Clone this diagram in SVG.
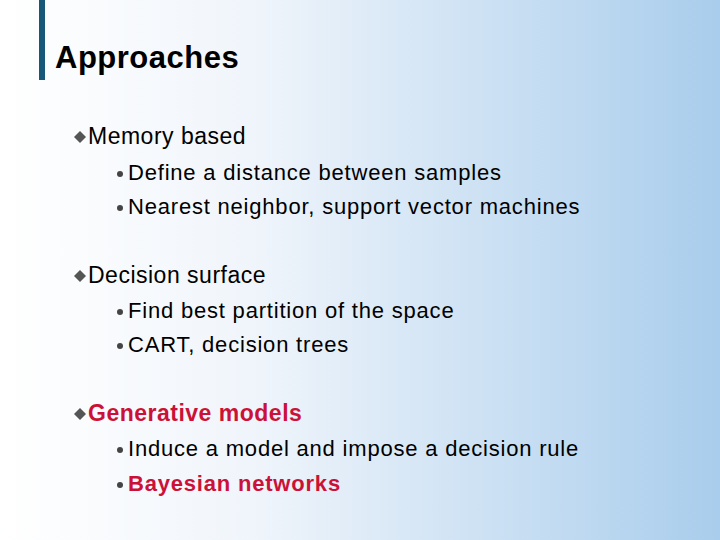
<svg xmlns="http://www.w3.org/2000/svg" width="720" height="540" viewBox="0 0 720 540">
<defs>
<linearGradient id="bg" x1="0" y1="0" x2="1" y2="0">
<stop offset="0" stop-color="#ffffff"/><stop offset="0.35" stop-color="#f0f5fb"/><stop offset="1" stop-color="#a9cdec"/>
</linearGradient>
<path id="dia" d="M0,-6 L6,0 L0,6 L-6,0Z" fill="#555"/>
</defs>
<style>
text{font-family:"Liberation Sans",Arial,sans-serif;fill:#000}
.t{font-size:31px;font-weight:bold;letter-spacing:0.5px}
.l1{font-size:23px;letter-spacing:0.5px}
.l2{font-size:22px;letter-spacing:0.8px}
.r{fill:#cc1138;font-weight:bold}
.dot{fill:#444}
</style>
<rect width="720" height="540" fill="url(#bg)"/>
<rect x="39" y="0" width="6" height="80" fill="#17587a"/>
<text class="t" x="55" y="68">Approaches</text>
<g id="memory">
<use href="#dia" x="80" y="137"/><text class="l1" x="88" y="144">Memory based</text>
<circle class="dot" cx="120" cy="174" r="3"/><text class="l2" x="128" y="180">Define a distance between samples</text>
<circle class="dot" cx="120" cy="208" r="3"/><text class="l2" x="128" y="214">Nearest neighbor, support vector machines</text>
</g>
<g id="decision">
<use href="#dia" x="80" y="276"/><text class="l1" x="88" y="283">Decision surface</text>
<circle class="dot" cx="120" cy="312" r="3"/><text class="l2" x="128" y="318">Find best partition of the space</text>
<circle class="dot" cx="120" cy="346" r="3"/><text class="l2" x="128" y="352">CART, decision trees</text>
</g>
<g id="generative">
<use href="#dia" x="80" y="414"/><text class="l1 r" x="88" y="421">Generative models</text>
<circle class="dot" cx="120" cy="450" r="3"/><text class="l2" x="128" y="456">Induce a model and impose a decision rule</text>
<circle class="dot" cx="120" cy="485" r="3"/><text class="l2 r" x="128" y="491">Bayesian networks</text>
</g>
</svg>
